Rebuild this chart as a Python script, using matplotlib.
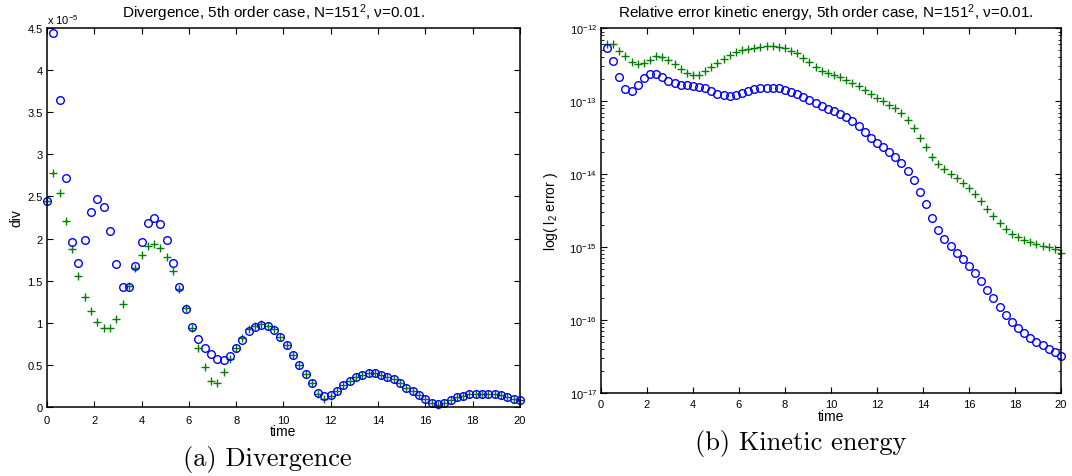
import numpy as np
import matplotlib
matplotlib.use("Agg")
import matplotlib.pyplot as plt
from matplotlib.ticker import FixedLocator, NullFormatter

plt.rcParams['font.family'] = ['Liberation Sans', 'DejaVu Sans']
plt.rcParams['mathtext.fontset'] = 'custom'
plt.rcParams['mathtext.rm'] = 'Liberation Sans'
plt.rcParams['mathtext.it'] = 'Liberation Sans:italic'

# time steps: 76 samples on [0, 20]
n_steps = 75
t_end = 20.0
time = np.arange(n_steps + 1) * t_end / n_steps

# divergence, units of 1e-5 (blue circles / green pluses)
div_circ = [2.44, 4.44, 3.65, 2.72, 1.96, 1.71, 1.98, 2.32, 2.47, 2.38,
            2.09, 1.70, 1.42, 1.42, 1.67, 1.96, 2.18, 2.24, 2.17, 1.98,
            1.71, 1.42, 1.16, 0.95, 0.81, 0.70, 0.63, 0.57, 0.56, 0.61,
            0.70, 0.80, 0.90, 0.95, 0.97, 0.96, 0.91, 0.83, 0.73, 0.62,
            0.50, 0.39, 0.28, 0.17, 0.13, 0.14, 0.19, 0.26, 0.31, 0.36,
            0.38, 0.40, 0.40, 0.38, 0.36, 0.33, 0.28, 0.23, 0.19, 0.14,
            0.09, 0.05, 0.03, 0.05, 0.08, 0.12, 0.13, 0.15, 0.15, 0.16,
            0.15, 0.15, 0.14, 0.12, 0.10, 0.08]
div_plus = [2.44, 2.78, 2.54, 2.21, 1.87, 1.56, 1.31, 1.14, 1.01, 0.94,
            0.94, 1.05, 1.22, 1.44, 1.65, 1.81, 1.91, 1.94, 1.89, 1.78,
            1.62, 1.40, 1.18, 0.94, 0.70, 0.48, 0.31, 0.29, 0.41, 0.57,
            0.70, 0.82, 0.92, 0.96, 0.98, 0.96, 0.92, 0.83, 0.73, 0.62,
            0.50, 0.39, 0.28, 0.16, 0.10, 0.13, 0.19, 0.26, 0.31, 0.36,
            0.38, 0.40, 0.40, 0.38, 0.36, 0.33, 0.28, 0.23, 0.19, 0.14,
            0.09, 0.05, 0.02, 0.05, 0.08, 0.12, 0.13, 0.15, 0.15, 0.16,
            0.15, 0.15, 0.14, 0.12, 0.10, 0.08]

# log10 of relative kinetic energy error, from the second time step on
ke_circ = [-12.274, -12.448, -12.671, -12.836, -12.858, -12.777, -12.677, -12.622, -12.622, -12.667,
           -12.718, -12.753, -12.777, -12.781, -12.790, -12.800, -12.822, -12.858, -12.896, -12.918,
           -12.923, -12.909, -12.882, -12.855, -12.836, -12.822, -12.818, -12.818, -12.822, -12.850,
           -12.877, -12.904, -12.941, -12.982, -13.023, -13.064, -13.101, -13.137, -13.170, -13.219,
           -13.274, -13.342, -13.421, -13.499, -13.571, -13.630, -13.690, -13.759, -13.849, -13.951,
           -14.082, -14.238, -14.411, -14.599, -14.759, -14.886, -14.986, -15.076, -15.164, -15.255,
           -15.359, -15.468, -15.589, -15.697, -15.827, -15.937, -16.033, -16.110, -16.178, -16.242,
           -16.297, -16.348, -16.393, -16.438, -16.493]
ke_plus = [-12.219, -12.219, -12.311, -12.384, -12.457, -12.489, -12.479, -12.430, -12.379, -12.389,
           -12.430, -12.493, -12.562, -12.616, -12.644, -12.636, -12.589, -12.530, -12.475, -12.421,
           -12.370, -12.329, -12.301, -12.279, -12.266, -12.252, -12.242, -12.242, -12.252, -12.277,
           -12.305, -12.345, -12.403, -12.466, -12.534, -12.585, -12.616, -12.640, -12.671, -12.708,
           -12.745, -12.786, -12.841, -12.900, -12.949, -12.996, -13.045, -13.096, -13.164, -13.260,
           -13.366, -13.499, -13.630, -13.759, -13.863, -13.932, -13.996, -14.055, -14.119, -14.188,
           -14.274, -14.370, -14.475, -14.575, -14.667, -14.749, -14.818, -14.868, -14.900, -14.927,
           -14.951, -14.978, -14.996, -15.023, -15.078]

decades = [-17, -16, -15, -14, -13, -12]

blue = (0, 0, 1)
green = (0, 0.5, 0)

fig = plt.figure(figsize=(10.72, 4.77), dpi=100)
ax1 = fig.add_axes([0.0438, 0.1447, 0.4412, 0.7945])
ax2 = fig.add_axes([0.5606, 0.174, 0.4291, 0.7646])

for ax in (ax1, ax2):
    for s in ax.spines.values():
        s.set_linewidth(1.1)
    ax.tick_params(direction='in', top=True, right=True, labelsize=8, length=4, width=0.8, pad=3)
    ax.tick_params(which='minor', direction='in', top=True, right=True, length=2, width=0.6)

# (a) divergence
ax1.plot(time, np.array(div_plus) * 1e-5, '+', color=green, ms=5.5, mew=1.0, clip_on=False)
ax1.plot(time, np.array(div_circ) * 1e-5, 'o', mfc='none', mec=blue, ms=5.5, mew=1.0, clip_on=False)
ax1.set_xlim(0, 20)
ax1.set_ylim(0, 4.5e-5)
ax1.set_xticks(np.arange(0, 21, 2))
yt = np.arange(0, 4.51, 0.5)
ax1.set_yticks(yt * 1e-5)
ax1.set_yticklabels(['%g' % v for v in yt])
ax1.tick_params(axis='x', pad=6)
ax1.text(0.0, 1.005, r'x 10$^{-5}$', transform=ax1.transAxes, fontsize=8, va='bottom', ha='left')
ax1.set_xlabel('time', fontsize=10, labelpad=-1)
ax1.set_ylabel('div', fontsize=10, labelpad=3)
fig.text(0.2555, 0.972, r'Divergence, 5th order case, N=151$^2$, ν=0.01.',
         fontsize=11, ha='center', va='center')

# (b) kinetic energy
ax2.semilogy(time[1:], 10.0 ** np.array(ke_plus), '+', color=green, ms=5.5, mew=1.0, clip_on=False)
ax2.semilogy(time[1:], 10.0 ** np.array(ke_circ), 'o', mfc='none', mec=blue, ms=5.5, mew=1.0, clip_on=False)
ax2.set_xlim(0, 20)
ax2.set_ylim(1e-17, 1e-12)
ax2.set_xticks(np.arange(0, 21, 2))
ax2.set_yticks([10.0 ** d for d in decades])
ax2.set_yticklabels([r'10$^{%d}$' % d for d in decades])
minor = [m * 10.0 ** d for d in decades[:-1] for m in range(2, 10)]
ax2.yaxis.set_minor_locator(FixedLocator(minor))
ax2.yaxis.set_minor_formatter(NullFormatter())
ax2.tick_params(axis='x', pad=4)
ax2.set_xlabel('time', fontsize=10, labelpad=0)
ax2.set_ylabel(r'log( l$_2$ error )', fontsize=10, labelpad=7)
fig.text(0.77, 0.972, r'Relative error kinetic energy, 5th order case, N=151$^2$, ν=0.01.',
         fontsize=11, ha='center', va='center')

fig.text(0.249, 0.036, '(a) Divergence', fontsize=19, family='cmr10', ha='center', va='center')
fig.text(0.747, 0.071, '(b) Kinetic energy', fontsize=19, family='cmr10', ha='center', va='center')

fig.savefig('out.png', dpi=100)
